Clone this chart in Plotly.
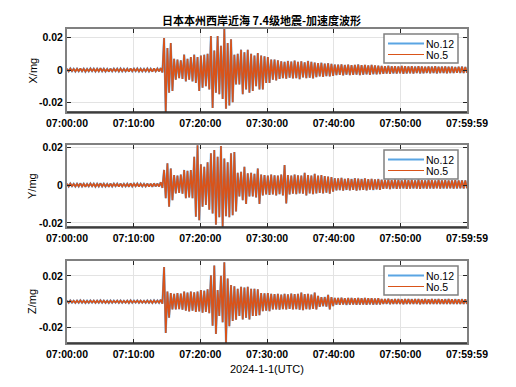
import numpy as np
import pandas as pd
import plotly.graph_objects as go

# ---------------- data (envelope peaks, units: 1e-3 mg, one pair per 30 s) -------------
title_text = "日本本州西岸近海 7.4级地震-加速度波形"
series_names = ["No.12", "No.5"]
axis_names = ["X/mg", "Y/mg", "Z/mg"]
tick_labels_x = ["07:00:00", "07:10:00", "07:20:00", "07:30:00", "07:40:00", "07:50:00", "07:59:59"]
tick_times_x = ["2024-01-01 07:00:00", "2024-01-01 07:10:00", "2024-01-01 07:20:00", "2024-01-01 07:30:00",
                "2024-01-01 07:40:00", "2024-01-01 07:50:00", "2024-01-01 07:59:59"]
y_tick_vals = [-0.02, 0, 0.02]
y_tick_text = ["-0.02", "0", "0.02"]

x_upper = [0.8, 0.9, 0.7, 0.8, 1.0, 0.8, 0.7, 0.9, 0.8, 0.8, 1.1, 0.8, 0.7, 0.9, 0.8, 0.8, 0.9, 0.7, 0.8, 1.0,
           0.8, 0.9, 0.8, 0.7, 0.9, 0.8, 1.0, 0.9,
           1.2, 19.8, 13.6, 16.7, 7.0, 6.4, 6.0, 9.5, 7.0, 8.0, 9.5, 8.0, 9.0, 9.5, 10.0, 21.0, 12.0, 21.0,
           15.0, 25.5, 16.7, 19.0, 9.5, 10.0, 12.6, 11.0, 12.6, 10.0, 9.0, 10.5, 9.0, 8.5, 8.0, 6.4, 6.5, 6.0,
           5.4, 5.0, 5.6, 5.2, 5.8, 5.0, 5.4, 4.8, 5.6, 5.0, 4.6, 4.3, 4.5, 4.0, 4.2, 3.8,
           3.4, 3.3, 3.5, 3.1, 3.3, 3.0, 3.2, 3.4, 3.0, 3.1, 2.9, 3.2, 2.8, 2.7,
           2.5, 2.4, 2.6, 2.3, 2.4, 2.2, 2.5, 2.3, 2.2, 2.4, 2.1, 2.3, 2.2, 2.0, 2.2, 2.1, 2.3, 2.0, 2.1, 2.2,
           2.0, 2.1, 1.9, 2.0, 2.1, 1.9]
x_lower = [-0.8, -0.7, -0.9, -0.8, -0.8, -1.0, -0.8, -0.7, -0.9, -0.8, -0.8, -0.9, -1.0, -0.8, -0.7, -0.9,
           -0.8, -0.8, -1.0, -0.8, -0.7, -0.9, -0.8, -0.8, -0.9, -1.0, -0.8, -0.9,
           -1.5, -26.0, -14.0, -13.0, -6.0, -5.0, -5.5, -7.0, -6.0, -7.0, -8.0, -13.0, -11.0, -10.0, -12.0,
           -23.5, -14.0, -15.0, -18.0, -24.0, -22.0, -20.0, -9.0, -9.0, -15.0, -12.0, -14.0, -13.0, -10.0,
           -12.0, -12.0, -8.0, -8.0, -6.0, -6.5, -5.5, -5.0, -5.4, -4.8, -5.2, -5.0, -5.6, -4.6, -5.0, -4.8,
           -5.2, -4.4, -4.0, -4.2, -3.8, -4.0, -3.6, -3.2, -3.0, -3.3, -2.9, -3.1, -3.0, -2.8, -3.2, -2.9,
           -2.7, -3.0, -2.6, -2.7, -2.5, -2.3, -2.2, -2.4, -2.1, -2.2, -2.0, -2.3, -2.1, -2.0, -2.2, -1.9,
           -2.1, -2.0, -1.8, -2.0, -1.9, -2.1, -1.8, -1.9, -2.0, -1.8, -1.9, -1.7, -1.8, -1.9, -1.7]

y_upper = [0.7, 0.8, 0.6, 0.7, 0.9, 0.7, 0.6, 0.8, 0.7, 0.7, 0.9, 0.7, 0.6, 0.8, 0.7, 0.7, 0.8, 0.6, 0.7, 0.9,
           0.7, 0.8, 0.7, 0.6, 0.8, 0.7, 0.9, 0.8,
           1.5, 8.0, 11.5, 8.8, 5.3, 5.0, 5.5, 8.0, 7.5, 8.0, 15.0, 21.0, 11.0, 9.7, 12.0, 16.8, 18.6, 15.0,
           20.7, 14.0, 12.0, 16.8, 17.5, 6.5, 7.0, 9.7, 6.2, 6.5, 6.0, 8.8, 5.5, 5.3, 5.0, 5.5, 5.2, 5.0,
           5.5, 10.6, 5.3, 5.0, 5.5, 5.2, 5.0, 6.5, 5.3, 5.0, 6.0, 5.0, 5.3, 4.8, 4.5, 4.2,
           3.6, 3.5, 3.8, 3.3, 3.5, 3.2, 3.6, 3.4, 3.2, 3.5, 3.1, 3.3, 3.0, 3.2,
           2.8, 2.7, 2.9, 2.6, 2.8, 2.7, 2.5, 2.8, 2.6, 2.7, 2.5, 2.8, 2.6, 2.5, 2.7, 2.6, 2.4, 2.7, 2.5, 2.6,
           2.4, 2.5, 2.6, 2.4, 2.5, 2.4]
y_lower = [-0.7, -0.6, -0.8, -0.7, -0.7, -0.9, -0.7, -0.6, -0.8, -0.7, -0.7, -0.8, -0.9, -0.7, -0.6, -0.8,
           -0.7, -0.7, -0.9, -0.7, -0.6, -0.8, -0.7, -0.7, -0.8, -0.9, -0.7, -0.8,
           -1.5, -7.0, -11.5, -8.0, -4.4, -4.2, -4.6, -7.0, -6.5, -7.0, -16.8, -18.6, -11.5, -10.5, -13.0,
           -15.0, -21.0, -17.0, -22.0, -16.5, -17.0, -16.0, -14.0, -6.0, -8.0, -10.0, -6.0, -6.0, -6.5,
           -10.0, -5.5, -5.0, -5.2, -5.0, -5.5, -4.8, -5.5, -9.7, -5.0, -4.5, -4.8, -4.4, -4.6, -5.5, -4.4,
           -4.8, -4.4, -4.2, -4.4, -4.0, -4.6, -3.5, -2.8, -2.7, -3.0, -2.6, -2.8, -2.5, -2.9, -2.7, -2.5,
           -2.8, -2.4, -2.6, -2.3, -2.5, -2.0, -1.9, -2.1, -1.8, -2.0, -1.9, -1.8, -2.0, -1.9, -1.8, -1.9,
           -2.0, -1.8, -1.9, -1.8, -1.9, -1.7, -1.9, -1.8, -1.8, -1.7, -1.9, -1.8, -1.7, -1.8, -1.7]

z_upper = [0.8, 0.9, 0.7, 0.8, 1.0, 0.8, 0.7, 0.9, 0.8, 0.8, 1.0, 0.8, 0.7, 0.9, 0.8, 0.8, 0.9, 0.7, 0.8, 1.0,
           0.8, 0.9, 0.8, 0.7, 0.9, 0.8, 1.0, 0.9,
           1.5, 26.8, 7.8, 6.6, 6.0, 6.6, 6.2, 7.8, 7.0, 7.8, 7.2, 7.8, 9.0, 8.5, 9.5, 20.5, 28.0, 9.0,
           20.0, 30.6, 18.0, 12.9, 12.0, 10.0, 11.6, 11.0, 11.6, 10.0, 10.0, 9.5, 6.6, 6.5, 6.6, 6.0, 5.8, 6.0,
           5.5, 6.0, 5.6, 6.2, 5.8, 6.0, 7.0, 5.8, 6.0, 5.5, 7.0, 4.5, 3.5, 3.6, 5.3, 3.5,
           2.9, 2.8, 3.0, 2.7, 2.9, 2.8, 2.6, 2.9, 2.7, 2.8, 2.6, 2.7, 2.5, 2.6,
           2.1, 2.0, 2.2, 1.9, 2.1, 2.0, 1.9, 2.1, 2.0, 1.9, 2.1, 2.0, 1.9, 2.0, 1.8, 2.0, 1.9, 2.0, 1.8, 1.9,
           2.0, 1.8, 1.9, 1.8, 1.9, 1.8]
z_lower = [-0.8, -0.7, -0.9, -0.8, -0.8, -1.0, -0.8, -0.7, -0.9, -0.8, -0.8, -0.9, -1.0, -0.8, -0.7, -0.9,
           -0.8, -0.8, -1.0, -0.8, -0.7, -0.9, -0.8, -0.8, -0.9, -1.0, -0.8, -0.9,
           -1.5, -24.3, -12.4, -6.0, -6.0, -5.8, -6.2, -7.0, -7.5, -7.0, -8.0, -7.5, -8.6, -8.0, -9.0,
           -18.7, -25.0, -11.0, -16.0, -32.0, -19.0, -15.0, -14.0, -11.0, -13.7, -12.5, -13.7, -11.0, -11.0,
           -10.5, -7.3, -7.0, -7.3, -6.0, -6.0, -6.2, -5.8, -6.0, -5.6, -6.0, -5.8, -6.2, -6.5, -5.8, -6.0,
           -5.6, -6.0, -4.0, -3.5, -3.8, -6.0, -3.4, -2.3, -2.4, -2.2, -2.5, -2.3, -2.2, -2.4, -2.3, -2.2,
           -2.4, -2.1, -2.3, -2.2, -2.1, -1.8, -1.7, -1.9, -1.8, -1.7, -1.8, -1.9, -1.7, -1.8, -1.7, -1.8,
           -1.9, -1.7, -1.8, -1.7, -1.8, -1.7, -1.8, -1.7, -1.8, -1.7, -1.8, -1.7, -1.8, -1.7, -1.8]

y_ranges = [[-0.026, 0.0254], [-0.0222, 0.0212], [-0.032, 0.0315]]

# ---------------- build -------------
BLUE = "#5aa5e3"
ORANGE = "#D95319"
start = pd.Timestamp("2024-01-01 07:00:00")
n_pts = 2 * len(x_upper)
sec = np.arange(n_pts) * (3599.0 / (n_pts - 1))
times = start + pd.to_timedelta(sec, unit="s")


def interleave(a, b):
    out = np.empty(len(a) + len(b))
    out[0::2] = a
    out[1::2] = b
    return out * 1e-3


channels = [(x_upper, x_lower), (y_upper, y_lower), (z_upper, z_lower)]

# pixel geometry helpers (plot area: x 67..467, y 29..343)
L, R, T, B = 67, 467, 29, 343
W, H = R - L, B - T


def px(xp):
    return (xp - L) / W


def py(yp):
    return 1 - (yp - T) / H


plot_tops = [29, 145, 261]
plot_bots = [112, 227, 343]
domains = [[py(b), py(t)] for t, b in zip(plot_tops, plot_bots)]
domains[0][1] = 1.0
domains[2][0] = 0.0

fig = go.Figure()
for k, (up, lo) in enumerate(channels):
    xa = "x" if k == 0 else f"x{k+1}"
    ya = "y" if k == 0 else f"y{k+1}"
    fig.add_trace(go.Scatter(x=times, y=interleave(up, lo), mode="lines", name=series_names[0],
                             line=dict(color=BLUE, width=2.1, simplify=False), xaxis=xa, yaxis=ya,
                             showlegend=False))
    fig.add_trace(go.Scatter(x=times, y=interleave(up, lo), mode="lines", name=series_names[1],
                             line=dict(color=ORANGE, width=1.6, simplify=False), xaxis=xa, yaxis=ya,
                             showlegend=False))

tickfont = dict(family="Liberation Sans", size=10.5, color="#000000", weight="bold")
layout = dict(
    width=516, height=387,
    margin=dict(l=L, r=516 - R, t=T, b=387 - B),
    paper_bgcolor="white", plot_bgcolor="white",
    showlegend=False,
    title=dict(text=title_text, x=261.5 / 516, xanchor="center", y=1 - 21 / 387, yanchor="middle",
               xref="container", yref="container",
               font=dict(family="Noto Sans CJK SC", size=11, color="#000000", weight="bold")),
)
for k in range(3):
    xk = "xaxis" if k == 0 else f"xaxis{k+1}"
    yk = "yaxis" if k == 0 else f"yaxis{k+1}"
    layout[xk] = dict(
        type="date", domain=[0, 1], anchor="y" if k == 0 else f"y{k+1}",
        range=["2024-01-01 07:00:00", "2024-01-01 07:59:59"],
        tickmode="array", tickvals=tick_times_x, ticktext=tick_labels_x,
        ticks="inside", ticklen=4, tickcolor="#262626", tickwidth=1,
        showline=True, linecolor="#808080", linewidth=2, mirror="allticks",
        showgrid=True, gridcolor="#e3e3e3", gridwidth=1,
        tickfont=tickfont, zeroline=False,
    )
    layout[yk] = dict(
        domain=domains[k], anchor="x" if k == 0 else f"x{k+1}",
        range=y_ranges[k], tickmode="array", tickvals=y_tick_vals, ticktext=y_tick_text,
        ticks="inside", ticklen=4, tickcolor="#262626", tickwidth=1,
        showline=True, linecolor="#808080", linewidth=2, mirror="allticks",
        showgrid=True, gridcolor="#e3e3e3", gridwidth=1,
        tickfont=tickfont, zeroline=False,
    )
fig.update_layout(**layout)

shapes = []
annotations = []
for k in range(3):
    yb = plot_bots[k]
    shapes.append(dict(type="line", xref="paper", yref="paper", x0=0, x1=1, y0=py(yb), y1=py(yb),
                       line=dict(color="#262626", width=1.5)))

# manual legends (box 384..458 x, top+5..top+34 y)
leg_font = dict(family="Liberation Sans", size=10.5, color="#000000")
for k in range(3):
    t = plot_tops[k]
    shapes.append(dict(type="rect", xref="paper", yref="paper", x0=px(384), x1=px(458),
                       y0=py(t + 34), y1=py(t + 5), fillcolor="white",
                       line=dict(color="#808080", width=1.5)))
    for j, (name, col, wd) in enumerate([(series_names[0], BLUE, 2.2), (series_names[1], ORANGE, 1.2)]):
        yy = t + 14.5 + j * 11
        shapes.append(dict(type="line", xref="paper", yref="paper", x0=px(388), x1=px(424),
                           y0=py(yy), y1=py(yy), line=dict(color=col, width=wd)))
        annotations.append(dict(text=name, xref="paper", yref="paper", x=px(424), y=py(yy),
                                xanchor="left", yanchor="middle", showarrow=False, font=leg_font))

for k, name in enumerate(axis_names):
    d = domains[k]
    annotations.append(dict(text=name, xref="paper", yref="paper", x=px(32), y=(d[0] + d[1]) / 2,
                            showarrow=False, textangle=-90, xanchor="center", yanchor="middle",
                            font=dict(family="Liberation Sans", size=11, color="#000000")))
annotations.append(dict(text="2024-1-1(UTC)", xref="paper", yref="paper", x=0.5, y=py(369),
                        showarrow=False, xanchor="center", yanchor="middle",
                        font=dict(family="Liberation Sans", size=11, color="#000000")))
fig.update_layout(shapes=shapes, annotations=annotations)

fig.write_html("out.html", config={"displayModeBar": False},
               post_script="document.body.style.margin='0';")
